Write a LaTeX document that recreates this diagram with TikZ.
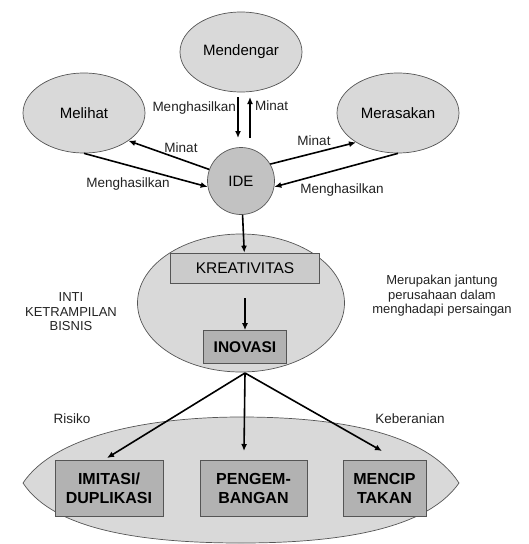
\documentclass[tikz,border=0pt]{standalone}
\usepackage{fontspec}
\setmainfont{Liberation Sans}
\usetikzlibrary{arrows.meta,shapes.geometric}
\definecolor{softfill}{HTML}{D9D9D9}
\definecolor{idefill}{HTML}{C2C2C2}
\definecolor{kreafill}{HTML}{CBCBCB}
\definecolor{boxfill}{HTML}{B2B2B2}
\definecolor{edge}{HTML}{555555}
\definecolor{labelgray}{HTML}{222222}
\tikzset{
  sense/.style={ellipse, draw=edge, line width=0.7pt, fill=softfill,
    minimum width=122pt, minimum height=80pt, inner sep=0pt, font=\fontsize{15}{17}\selectfont},
  idecircle/.style={circle, draw=edge, line width=0.7pt, fill=idefill,
    minimum size=67pt, inner sep=0pt, font=\fontsize{15}{17}\selectfont},
  stagebox/.style={rectangle, draw=edge, line width=0.7pt, inner sep=0pt, align=center},
  outbox/.style={stagebox, fill=boxfill, minimum height=56pt,
    font=\fontsize{16}{19}\bfseries\selectfont},
  arr/.style={line width=1.6pt, -{Latex[length=7pt,width=6pt]}},
  lbl/.style={font=\fontsize{13.5}{15}\selectfont, text=labelgray, inner sep=0pt},
  note/.style={font=\fontsize{13}{14.5}\selectfont, text=labelgray, align=center, inner sep=0pt}
}
\begin{document}
\begin{tikzpicture}[x=1pt,y=-1pt]
  \useasboundingbox (0,0) rectangle (528,544);

  % background shapes: central ellipse and the wide lens at the bottom
  \node[ellipse, draw=edge, line width=0.7pt, fill=softfill, minimum width=207pt,
        minimum height=138pt, inner sep=0pt] (core) at (241,303) {};
  \path[draw=edge, line width=0.7pt, fill=softfill]
    (23,483) .. controls (55,435) and (150,417) .. (241,417)
    .. controls (330,417) and (425,430) .. (459,483)
    .. controls (425,532) and (330,543) .. (241,543)
    .. controls (150,543) and (55,532) .. (23,483) -- cycle;

  % sources of ideas
  \node[sense] (hear) at (241,52) {Mendengar};
  \node[sense] (see)  at (84,113) {Melihat};
  \node[sense] (feel) at (398,113) {Merasakan};
  \node[idecircle] (ide) at (241,181) {IDE};

  % stages
  \node[stagebox, fill=kreafill, minimum width=149pt, minimum height=30pt,
        font=\fontsize{15.5}{18}\selectfont] (krea) at (245,268) {KREATIVITAS};
  \node[stagebox, fill=boxfill, minimum width=83pt, minimum height=33pt,
        font=\fontsize{15.5}{18}\bfseries\selectfont] (inov) at (245,347) {INOVASI};
  \node[outbox, minimum width=108pt] (imit) at (109,488) {IMITASI/\\DUPLIKASI};
  \node[outbox, minimum width=107pt] (peng) at (253.5,488) {PENGEM-\\BANGAN};
  \node[outbox, minimum width=83pt]  (menc) at (384.5,488) {MENCIP\\TAKAN};

  % anchor points for the connectors
  \coordinate (hearL) at (238,97);
  \coordinate (hearR) at (250,97);
  \coordinate (ideTL) at (238,138);
  \coordinate (ideTR) at (250,138);
  \coordinate (fork) at (245,373);
  \coordinate (imitTop) at (107,458);
  \coordinate (pengTop) at (244,451);
  \coordinate (mencTop) at (382,451);

  % idea flows
  \draw[arr] (hearL) -- (ideTL);
  \draw[arr] (ideTR) -- (hearR);
  \draw[arr] (ide.160) -- (see.-32);
  \draw[arr] (see.-90) -- (ide.190);
  \draw[arr] (ide.30) -- (feel.-145);
  \draw[arr] (feel.-90) -- (ide.-10);
  \draw[arr] (ide) -- (krea);
  \draw[arr, shorten <=15pt] (krea) -- (inov);
  \draw[arr] (fork) -- (imitTop);
  \draw[arr] (fork) -- (pengTop);
  \draw[arr] (fork) -- (mencTop);

  % connector labels
  \node[lbl, anchor=east] (l1) at (236,108) {Menghasilkan};
  \node[lbl, anchor=west] (l2) at (255,106) {Minat};
  \node[lbl] (l3) at (181,148) {Minat};
  \node[lbl] (l4) at (128,184) {Menghasilkan};
  \node[lbl] (l5) at (314,141) {Minat};
  \node[lbl] (l6) at (342,190) {Menghasilkan};

  % side notes
  \node[note] (inti) at (71,312) {INTI\\KETRAMPILAN\\BISNIS};
  \node[note] (heart) at (442,296) {Merupakan jantung\\perusahaan dalam\\menghadapi persaingan};
  \node[lbl] (risk) at (72,419) {Risiko};
  \node[lbl] (brave) at (410,419) {Keberanian};
\end{tikzpicture}
\end{document}
